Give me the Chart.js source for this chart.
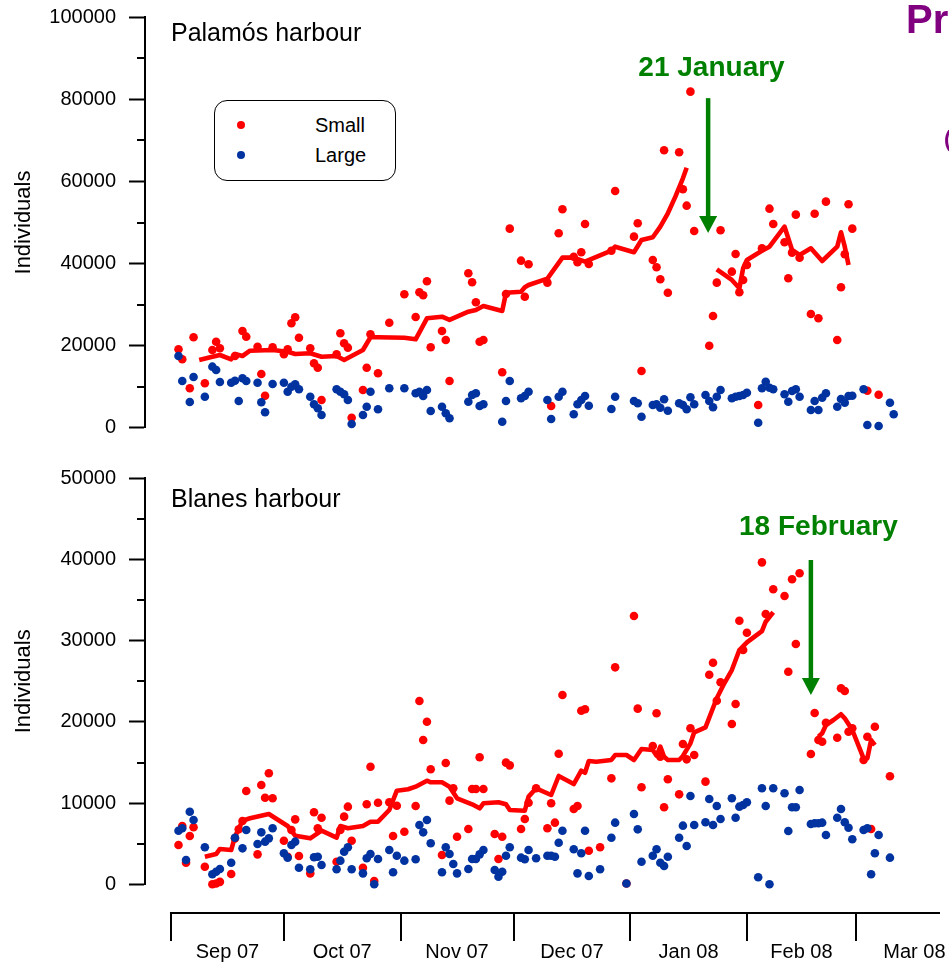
<!DOCTYPE html>
<html lang="en">
<head>
<meta charset="UTF-8">
<title>Palamós and Blanes harbour</title>
<script src="https://cdn.jsdelivr.net/npm/chart.js"></script>
<style>
  html, body { margin: 0; padding: 0; background: #fff; }
  body { width: 949px; height: 968px; position: relative; overflow: hidden;
         font-family: "Liberation Sans", Arial, sans-serif; }
  canvas { position: absolute; left: 0; }
  #top { top: -10px; }
  #bottom { top: 440px; }
  #legend { position: absolute; left: 214px; top: 100px; width: 180px; height: 79px;
            border: 1.5px solid #000; border-radius: 13px; background: #fff; }
  .row { position: absolute; left: 0; right: 0; height: 24px; line-height: 24px; font-size: 20px; }
  .dot { position: absolute; left: 22px; top: 8px; width: 8px; height: 8px; border-radius: 50%; }
  .lbl { position: absolute; left: 100px; }
  .slide { position: absolute; color: #800080; font-weight: bold; white-space: nowrap; }
</style>
</head>
<body>

<canvas id="top" width="949" height="470"></canvas>
<canvas id="bottom" width="949" height="528"></canvas>
<div id="legend"></div>
<div class="slide" style="left:906px; top:-1px; font-size:40px; line-height:40px;">Pr</div>
<div class="slide" style="left:944px; top:128px; font-size:22px; line-height:22px;">(</div>

<script>
// days counted from 1 Sep 2007
const monthStarts = [0, 30, 61, 91, 122, 153, 182, 213];
const monthLabels = ['Sep 07', 'Oct 07', 'Nov 07', 'Dec 07', 'Jan 08', 'Feb 08', 'Mar 08'];
const seriesNames = ['Small', 'Large'];

// Palamós harbour: [day, individuals]
const palamosSmall = [
  [2,19100],[3,16670],[5,9600],[6,22030],[9,10820],[11,18940],[12,20960],[13,19350],[17,17470],
  [19,23570],[20,22180],[23,19740],[24,13090],[25,7800],[27,19590],[30,17890],[31,19110],[32,25440],
  [33,26900],[34,21930],[37,19350],[38,15690],[39,14620],[40,6750],[44,17890],[45,23010],[46,20570],
  [47,19500],[48,2440],[51,9190],[52,14620],[53,22760],[55,13260],[58,25590],[62,32510],[65,26980],
  [66,33000],[67,32270],[68,35680],[69,19590],[72,23570],[73,21370],[74,11380],[79,37630],[80,35430],
  [81,30560],[82,20960],[83,21370],[88,13500],[89,32580],[90,48500],[93,40700],[94,31920],[95,39820],
  [100,35340],[101,5290],[103,47380],[104,53220],[107,41670],[108,40310],[109,42750],[110,49640],
  [111,39890],[117,43130],[118,57680],[123,46550],[124,49810],[125,13820],[128,40870],[129,39090],
  [130,36170],[131,67600],[132,32900],[135,67120],[136,58100],[137,54100],[138,81880],[139,47940],
  [143,19980],[144,27220],[145,35340],[146,48110],[149,38020],[150,42330],[151,33000],[152,35990],
  [153,39650],[156,5530],[157,43720],[159,53370],[160,49640],[163,45180],[164,36410],[165,42650],
  [166,51910],[167,41430],[170,27710],[171,52150],[172,26660],[174,55080],[177,21370],[178,34220],
  [179,42260],[180,54440],[181,48500],[185,9020],[188,8040]
];
const palamosLarge = [
  [2,17470],[3,11380],[5,6260],[6,12360],[9,7550],[11,14870],[12,14060],[13,11140],[16,10970],
  [17,11450],[18,6510],[19,12040],[20,11380],[23,10970],[24,6190],[25,3750],[27,10650],[30,10970],
  [31,8770],[32,9990],[33,10580],[34,9360],[37,7550],[38,5700],[39,4730],[40,3100],[44,9360],
  [45,8770],[46,8140],[47,6750],[48,900],[51,3100],[52,5120],[53,8770],[55,4480],[58,9600],[62,9600],
  [65,8380],[66,8770],[67,7730],[68,9190],[69,4070],[72,5120],[73,3510],[74,2290],[79,6340],[80,7970],
  [81,8380],[82,5290],[83,5700],[88,1460],[89,6510],[90,11380],[93,7160],[94,7730],[95,8770],
  [100,6750],[101,2120],[103,7550],[104,8770],[107,3270],[108,5700],[109,6750],[110,7730],[111,5360],
  [117,4560],[118,7550],[123,6510],[124,5950],[125,2680],[128,5530],[129,5700],[130,4870],[131,6920],
  [132,4140],[135,5950],[136,5530],[137,4480],[138,7410],[139,5700],[142,7970],[143,6510],[144,4970],
  [145,7550],[146,9190],[149,7160],[150,7550],[151,7730],[152,7970],[153,8530],[156,1220],[157,9600],
  [158,11210],[159,9750],[160,9360],[163,8140],[164,6340],[165,8940],[166,9360],[167,7550],[170,4310],
  [171,6510],[172,4310],[173,7310],[174,8380],[177,5120],[178,6990],[179,6090],[180,7730],[181,7800],
  [184,9360],[185,660],[188,410],[191,6090],[192,3270]
];
const palamosTrendBefore = [
  [7.5,16500],[11,17300],[13,17720],[16,16670],[17,17960],[19,17470],[21,18760],[27,18940],[31,18520],
  [33,17960],[37,18130],[40,17300],[44,17470],[46,16500],[51,18940],[53,22030],[55,22030],[62,21930],
  [65,21540],[68,26660],[72,27050],[74,26250],[79,28270],[81,28680],[83,29660],[88,28440],[89,32900],
  [93,33140],[94,34220],[95,34780],[100,36310],[104,41430],[107,41430],[110,40450],[117,43130],
  [118,44110],[123,42750],[125,45740],[128,46400],[130,48980],[132,52250],[134,56300],[136,60780],
  [137,63360]
];
const palamosTrendAfter = [
  [145,38600],[149,35990],[151,33970],[152,38850],[153,40870],[157,43130],[159,44110],[163,48980],
  [165,43310],[167,42090],[170,43720],[173,40620],[177,44110],[178,47620],[179,44110],[180,39650]
];

// Blanes harbour: [day, individuals]
const blanesSmall = [
  [2,4840],[3,7180],[4,2660],[5,5950],[6,7020],[9,2170],[11,0],[12,100],[13,300],[16,1270],[17,5660],
  [18,6770],[19,7800],[20,11490],[23,3690],[24,12230],[25,10660],[26,13670],[27,10590],[30,5370],
  [31,3400],[32,6690],[33,8000],[34,3490],[37,1350],[38,8870],[39,6900],[40,8200],[44,2780],[45,6690],
  [46,8330],[47,9560],[48,5370],[51,2040],[52,9850],[53,14480],[54,410],[55,10050],[58,10100],[59,5950],
  [60,9680],[62,6480],[65,9640],[66,22570],[67,17770],[68,20020],[69,14160],[72,3610],[73,14940],
  [74,10300],[75,11820],[76,5860],[79,6810],[80,11740],[81,11740],[82,15640],[83,11740],[86,6190],
  [87,3120],[88,5860],[89,14980],[90,14650],[93,6810],[94,8040],[95,10050],[97,11820],[100,6900],
  [101,9980],[102,7590],[103,16080],[104,23310],[107,9270],[108,9640],[109,21380],[110,21550],
  [111,4140],[114,4560],[117,13050],[118,26720],[121,100],[123,33040],[124,21630],[125,11950],
  [128,17030],[129,21060],[130,15710],[131,9480],[132,12930],[135,11080],[136,17280],[137,15390],
  [138,19210],[139,15920],[142,12640],[143,25810],[144,27290],[145,22610],[146,24880],[149,19740],
  [150,22200],[151,32460],[152,28850],[153,30980],[157,39650],[158,33290],[160,36330],[163,35500],
  [164,26180],[165,37560],[166,29590],[167,38300],[170,16050],[171,21100],[172,17770],[173,17560],
  [174,19900],[177,18050],[178,24140],[179,23810],[180,18790],[181,19210],[184,15310],[185,18180],
  [186,6810],[187,19410],[191,13300]
];
const blanesLarge = [
  [2,6600],[3,6900],[4,2990],[5,8940],[6,7920],[9,4560],[11,1230],[12,1550],[13,1880],[16,2660],
  [17,5740],[19,4430],[20,6690],[23,4960],[24,6400],[25,5250],[26,5660],[27,6900],[30,3820],[31,3280],
  [32,4840],[33,5250],[34,2040],[37,1850],[38,3330],[39,3400],[40,2380],[44,1850],[45,2910],[46,4010],
  [47,4560],[48,1850],[51,1350],[52,3200],[53,3730],[54,0],[55,3120],[58,4220],[59,1480],[60,3520],
  [62,2910],[65,3080],[66,7300],[67,6400],[68,7920],[69,5050],[72,1480],[73,4560],[74,3730],[75,2500],
  [76,1350],[79,1880],[80,3120],[81,3120],[82,3690],[83,4220],[86,1760],[87,940],[88,1550],[89,3520],
  [90,4560],[93,3280],[94,3080],[95,4220],[97,3200],[100,3520],[101,3520],[102,3400],[103,5120],
  [104,6600],[107,4310],[108,1350],[109,3820],[110,6600],[111,1020],[114,1850],[117,5740],[118,7590],
  [121,100],[123,8660],[124,6770],[125,2780],[128,3520],[129,4310],[130,2660],[131,2250],[132,3400],
  [135,5740],[136,7220],[137,4720],[138,10870],[139,7300],[142,7640],[143,10500],[144,7300],[145,9640],
  [146,8040],[149,10590],[150,8200],[151,9560],[152,9770],[153,10100],[156,860],[157,11820],[158,9640],
  [159,0],[160,11820],[163,11210],[164,6560],[165,9480],[166,9480],[167,11610],[170,7430],[171,7510],
  [172,7510],[173,7590],[174,6070],[177,8200],[178,9270],[179,7640],[180,6970],[181,5540],[184,6690],
  [185,6900],[186,1230],[187,3820],[188,6070],[191,3280]
];
const blanesTrendBefore = [
  [9,3400],[12,3730],[13,4350],[16,4220],[17,5860],[19,7830],[21,8130],[26,8660],[31,7180],[33,5990],
  [37,5660],[40,6600],[44,5740],[45,7180],[47,6900],[51,7180],[53,7710],[55,7710],[58,9150],[60,11530],
  [63,11700],[65,12020],[68,12760],[69,12560],[72,12560],[74,12020],[76,10590],[80,9850],[82,9360],
  [83,9980],[87,10100],[89,9850],[90,9150],[94,9060],[95,10800],[97,11820],[101,11000],[103,13340],
  [107,12350],[109,13990],[110,13740],[111,15180],[113,15100],[117,15310],[118,15920],[121,15920],
  [123,15310],[125,16660],[128,16540],[129,15840],[130,16950],[131,15710],[132,15310],[135,15310],
  [136,15800],[138,17360],[139,18720],[142,19330],[145,22910],[147,24750],[149,26390],[151,28850],
  [153,29800],[157,31190],[158,32340],[160,33500]
];
const blanesTrendAfter = [
  [172,18180],[173,18600],[174,19620],[176,20230],[178,20940],[179,20440],[181,19000],[184,15520],
  [185,15520],[186,17770],[187,17150]
];

const RED = '#ff0000', BLUE = '#0033a0', GREEN = '#008000';
const FONT = '"Liberation Sans", Arial, sans-serif';
const DAY_MIN = -6.9, DAY_MAX = 204.3;
const labelDays = monthLabels.map((m, i) => (monthStarts[i] + monthStarts[i + 1]) / 2);

function pts(pairs) { return pairs.map(p => ({ x: p[0], y: p[1] })); }

// minor ticks, panel title, dated arrow, and the detached x axis
const panelDecor = {
  id: 'panelDecor',
  afterDraw(chart, args, o) {
    const ctx = chart.ctx, xs = chart.scales.x, ys = chart.scales.y, area = chart.chartArea;
    ctx.save();
    ctx.strokeStyle = '#000';
    ctx.lineWidth = 2;
    for (let v = o.minorStep; v < o.yMax; v += o.majorStep) {
      const py = Math.round(ys.getPixelForValue(v));
      ctx.beginPath(); ctx.moveTo(area.left - 8, py); ctx.lineTo(area.left, py); ctx.stroke();
    }

    ctx.fillStyle = '#000';
    ctx.font = '25px ' + FONT;
    ctx.textAlign = 'left';
    ctx.textBaseline = 'alphabetic';
    ctx.fillText(o.title, xs.getPixelForValue(o.titleAt[0]), ys.getPixelForValue(o.titleAt[1]));

    const ax = xs.getPixelForValue(o.arrowDay);
    const y0 = ys.getPixelForValue(o.arrowFrom), tip = ys.getPixelForValue(o.arrowTo);
    ctx.strokeStyle = GREEN;
    ctx.fillStyle = GREEN;
    ctx.lineWidth = 4.5;
    ctx.beginPath(); ctx.moveTo(ax, y0); ctx.lineTo(ax, tip - 14); ctx.stroke();
    ctx.beginPath();
    ctx.moveTo(ax - 9, tip - 17); ctx.lineTo(ax + 9, tip - 17); ctx.lineTo(ax, tip);
    ctx.closePath(); ctx.fill();
    ctx.font = 'bold 28px ' + FONT;
    ctx.textAlign = 'center';
    ctx.textBaseline = 'middle';
    ctx.fillText(o.note, xs.getPixelForValue(o.noteAt[0]), ys.getPixelForValue(o.noteAt[1]));

    if (o.xAxisGap) {
      const py = Math.round(ys.getPixelForValue(0)) + o.xAxisGap;
      ctx.strokeStyle = '#000';
      ctx.lineWidth = 2;
      ctx.beginPath(); ctx.moveTo(xs.getPixelForValue(0) - 1, py); ctx.lineTo(area.right, py); ctx.stroke();
      monthStarts.forEach(d => {
        if (d > DAY_MAX) return;
        const px = Math.round(xs.getPixelForValue(d));
        ctx.beginPath(); ctx.moveTo(px, py); ctx.lineTo(px, py + 28); ctx.stroke();
      });
    }
    ctx.restore();
  }
};

function makePanel(id, small, large, before, after, opt) {
  const dots = (label, data, color) => ({
    label, data: pts(data), pointRadius: 4.3, pointHoverRadius: 4.3,
    pointBackgroundColor: color, pointBorderWidth: 0, backgroundColor: color, clip: false
  });
  const trend = (data) => ({
    label: 'trend', data: pts(data), showLine: true, pointRadius: 0, pointHoverRadius: 0,
    borderColor: RED, borderWidth: 4.6, fill: false, tension: 0, borderJoinStyle: 'round', clip: false
  });
  return new Chart(document.getElementById(id), {
    type: 'scatter',
    data: {
      datasets: [
        dots(seriesNames[1], large, BLUE),
        trend(before),
        trend(after),
        dots(seriesNames[0], small, RED)
      ]
    },
    plugins: [panelDecor],
    options: {
      responsive: false,
      animation: false,
      events: [],
      layout: { padding: opt.padding },
      plugins: {
        legend: { display: false },
        tooltip: { enabled: false },
        panelDecor: opt.decor
      },
      scales: {
        x: opt.xAxis,
        y: {
          min: 0, max: opt.decor.yMax,
          afterFit(s) { s.width = 145; },
          ticks: { stepSize: opt.decor.majorStep, callback: v => String(v), color: '#000',
                   font: { size: 20, family: FONT }, padding: 13 },
          grid: { drawOnChartArea: false, tickLength: 16, tickWidth: 2, tickColor: '#000' },
          border: { display: true, color: '#000', width: 2 },
          title: { display: true, text: 'Individuals', color: '#000',
                   font: { size: 22, family: FONT }, padding: { top: 11, bottom: 0 } }
        }
      }
    }
  });
}

// top canvas starts 10px above the page, so its chart area runs from 27.3 to 437.7
makePanel('top', palamosSmall, palamosLarge, palamosTrendBefore, palamosTrendAfter, {
  padding: { top: 27.3, bottom: 32.3, left: 0, right: 9 },
  xAxis: { type: 'linear', display: false, min: DAY_MIN, max: DAY_MAX },
  decor: {
    yMax: 100000, majorStep: 20000, minorStep: 10000,
    title: 'Palamós harbour', titleAt: [0, 94310],
    arrowDay: 142.7, arrowFrom: 80300, arrowTo: 47450,
    note: '21 January', noteAt: [143.6, 87500]
  }
});

makePanel('bottom', blanesSmall, blanesLarge, blanesTrendBefore, blanesTrendAfter, {
  padding: { top: 38.3, bottom: 0, left: 0, right: 9 },
  xAxis: {
    type: 'linear', position: 'bottom', min: DAY_MIN, max: DAY_MAX,
    afterFit(s) { s.height = 83.7; },
    afterBuildTicks(s) { s.ticks = labelDays.map(v => ({ value: v })); },
    ticks: { autoSkip: false, maxRotation: 0, color: '#000', font: { size: 20, family: FONT },
             padding: 2, callback: (v, i) => monthLabels[i] },
    grid: { drawOnChartArea: false, drawTicks: true, tickLength: 54, tickColor: 'rgba(0,0,0,0)' },
    border: { display: false }
  },
  decor: {
    yMax: 50000, majorStep: 10000, minorStep: 5000,
    title: 'Blanes harbour', titleAt: [0, 46500],
    arrowDay: 170, arrowFrom: 39940, arrowTo: 23310,
    note: '18 February', noteAt: [172, 44000],
    xAxisGap: 29
  }
});

// legend box, as in the top panel
const legendColors = [RED, BLUE];
document.getElementById('legend').innerHTML = seriesNames.map((name, i) =>
  `<div class="row" style="top:${11.5 + i * 30.5}px"><span class="dot" style="background:${legendColors[i]}"></span><span class="lbl">${name}</span></div>`
).join('');
</script>
</body>
</html>
